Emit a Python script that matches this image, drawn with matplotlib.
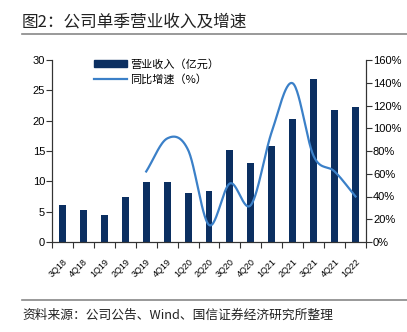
import numpy as np
import matplotlib
matplotlib.use("Agg")
import matplotlib.pyplot as plt
import matplotlib.transforms as mtransforms
from matplotlib.lines import Line2D
from matplotlib.patches import Patch

plt.rcParams['font.family'] = ['Liberation Sans', 'Noto Sans CJK SC', 'DejaVu Sans']

quarters = ["3Q18", "4Q18", "1Q19", "2Q19", "3Q19", "4Q19", "1Q20", "2Q20",
            "3Q20", "4Q20", "1Q21", "2Q21", "3Q21", "4Q21", "1Q22"]
revenue = [6.05, 5.2, 4.45, 7.35, 9.9, 9.9, 8.0, 8.4,
           15.15, 13.1, 15.9, 20.3, 26.8, 21.7, 22.2]
# 同比增速从3Q19开始
growth_quarters = quarters[4:]
growth = [62, 91, 81, 15, 51.5, 32.5, 97, 139.5, 75.5, 62, 40]

BAR_COLOR = "#0b2f61"
LINE_COLOR = "#3b80c8"


def smooth(x, y, n=30, tension=0.5):
    # 平滑曲线（cardinal spline）
    x = np.asarray(x, float)
    y = np.asarray(y, float)
    px = np.concatenate([[2 * x[0] - x[1]], x, [2 * x[-1] - x[-2]]])
    py = np.concatenate([[2 * y[0] - y[1]], y, [2 * y[-1] - y[-2]]])
    xs, ys = [], []
    t = np.linspace(0, 1, n)
    for i in range(1, len(px) - 2):
        m1x = tension * (px[i + 1] - px[i - 1])
        m1y = tension * (py[i + 1] - py[i - 1])
        m2x = tension * (px[i + 2] - px[i])
        m2y = tension * (py[i + 2] - py[i])
        h00 = 2 * t**3 - 3 * t**2 + 1
        h10 = t**3 - 2 * t**2 + t
        h01 = -2 * t**3 + 3 * t**2
        h11 = t**3 - t**2
        xs.append(h00 * px[i] + h10 * m1x + h01 * px[i + 1] + h11 * m2x)
        ys.append(h00 * py[i] + h10 * m1y + h01 * py[i + 1] + h11 * m2y)
    return np.concatenate(xs), np.concatenate(ys)


fig = plt.figure(figsize=(4.07, 3.32), dpi=100)
ax = fig.add_axes([52 / 407, 1 - 242 / 332, (366 - 52) / 407, (242 - 60) / 332])
ax2 = ax.twinx()

x = np.arange(len(quarters))
ax.bar(x, revenue, width=0.33, color=BAR_COLOR, zorder=2)
ax.set_xlim(-0.5, len(quarters) - 0.5)
ax.set_ylim(0, 30)
ax.set_yticks(range(0, 31, 5))

gx = np.array([quarters.index(q) for q in growth_quarters])
sx, sy = smooth(gx, growth)
ax2.plot(sx, sy, color=LINE_COLOR, lw=1.6, zorder=3)
ax2.set_ylim(0, 160)
ax2.set_yticks(range(0, 161, 20))
ax2.set_yticklabels([f"{v}%" for v in range(0, 161, 20)])

ax.set_xticks(x)
ax.set_xticklabels(quarters, rotation=45, ha="right", rotation_mode="anchor", fontsize=6.5)
shift = mtransforms.ScaledTranslation(3 / 100, 0, fig.dpi_scale_trans)
for lbl in ax.get_xticklabels():
    lbl.set_transform(lbl.get_transform() + shift)
ax.set_xticks(np.arange(-0.5, len(quarters), 1), minor=True)
ax.tick_params(axis="x", which="major", length=0, pad=11)
ax.tick_params(axis="x", which="minor", length=4, width=0.8, color="#333333")
ax.tick_params(axis="y", labelsize=8, length=4, width=0.8, color="#333333", pad=1)
ax2.tick_params(axis="y", labelsize=8, length=4, width=0.8, color="#333333", pad=1)

for a in (ax, ax2):
    a.spines["top"].set_visible(False)
    for s in ("left", "right", "bottom"):
        a.spines[s].set_color("#333333")
        a.spines[s].set_linewidth(0.8)

handles = [Patch(color=BAR_COLOR), Line2D([], [], color=LINE_COLOR, lw=1.6)]
labels = ["营业收入（亿元）", "同比增速（%）"]
ax.legend(handles, labels, loc="upper left", bbox_to_anchor=(0.103, 1.062),
          frameon=False, handlelength=2.9, handleheight=0.6,
          handletextpad=0.35, labelspacing=0.4,
          prop={'family': ['Noto Sans CJK SC'], 'size': 8})

# 标题与来源
fig.text(22 / 407, 1 - 22 / 332, "图2：公司单季营业收入及增速", fontsize=12,
         family=['Noto Sans CJK SC'], va="center", ha="left", color="#222222")
fig.add_artist(Line2D([22 / 407, 1], [1 - 34 / 332] * 2, color="#888888", lw=1.2))
fig.add_artist(Line2D([22 / 407, 1], [1 - 300 / 332] * 2, color="#888888", lw=1.2))
fig.text(22 / 407, 1 - 315 / 332, "资料来源：公司公告、Wind、国信证券经济研究所整理", fontsize=9.2,
         family=['Noto Sans CJK SC'], va="center", ha="left", color="#222222")

fig.savefig("out.png", dpi=100)
